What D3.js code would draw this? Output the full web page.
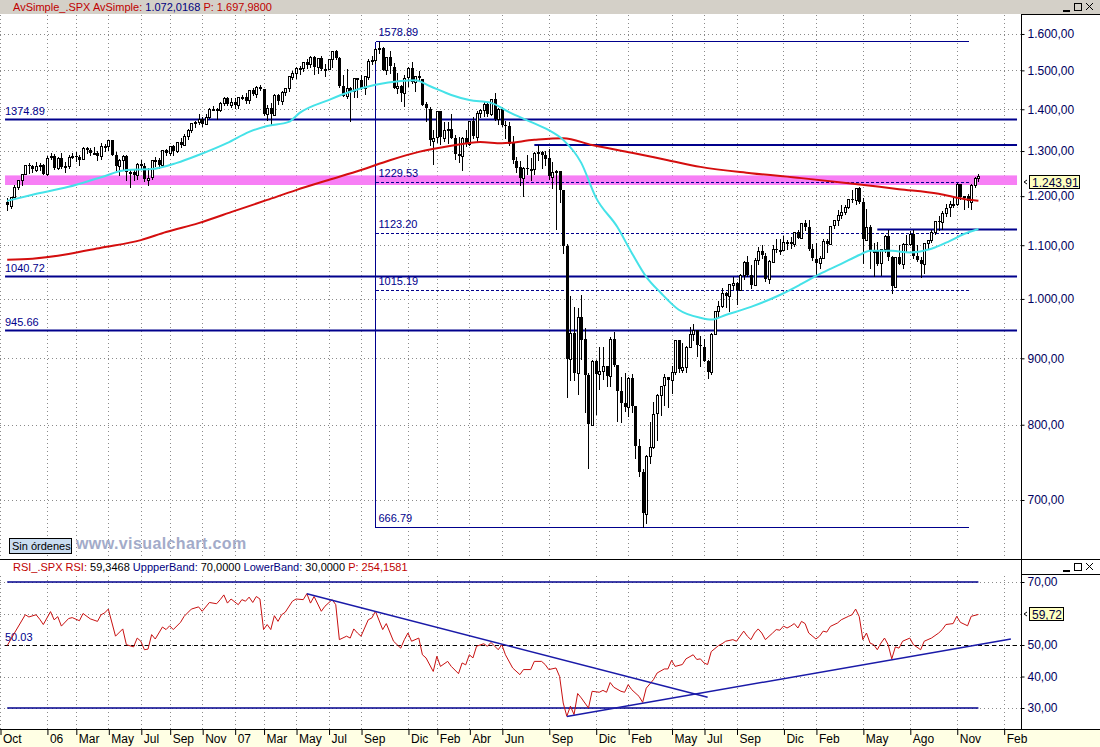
<!DOCTYPE html>
<html lang="es">
<head>
<meta charset="UTF-8">
<title>SPX semanal</title>
<script src="https://d3js.org/d3.v7.min.js"></script>
<style>
  body { margin: 0; background: #fff; }
  svg { display: block; font-family: "Liberation Sans", Arial, sans-serif; }
</style>
</head>
<body>
<svg width="1100" height="747"></svg>
<script>
// week index 0 = week of 3 Oct 2005; first candle is week 2
const firstWeek = 2;

const opens = [
  1187,1180,1198,1220,1235,1248,1268,1265,1259,1267,1269,
  1248,1285,1288,1261,1284,1264,1267,1287,1289,1287,1281,1307,1303,1295,1296,1289,1311,1311,1326,1291,1267,1280,1288,1252,1252,1245,1270,1265,1236,1240,1279,1279,1267,1302,1295,1311,1299,1321,1315,1336,1350,1366,1369,1377,1364,1381,1401,1401,1397,1415,1427,1411,
  1418,1410,1431,1431,1422,1448,1438,1456,1451,1387,1403,1387,1436,1421,1444,1453,1484,1494,1506,1506,1523,1516,1536,1508,1533,1503,1503,1530,1553,1534,1459,1433,1454,1446,1479,1474,1454,1484,1526,1527,1558,1562,1501,1535,1510,1454,1459,1441,1481,1505,1468,1484,
  1478,1412,1401,1325,1331,1395,1331,1350,1353,1331,1293,1288,1330,1315,1370,1333,1390,1398,1414,1388,1425,1376,1400,1361,1360,1318,1278,1263,1239,1261,1258,1260,1296,1298,1292,1283,1242,1252,1255,1213,1099,899,941,877,969,931,873,800,896,876,880,888,
  873,932,890,850,832,826,869,827,770,735,683,757,769,816,843,857,870,866,878,929,883,887,919,940,946,921,919,896,879,940,979,987,1010,1004,1026,1029,1016,1043,1068,1044,1025,1071,1088,1080,1036,1069,1093,1091,1091,1106,1106,1102,1126,
  1115,1145,1136,1092,1074,1066,1076,1109,1104,1139,1150,1160,1167,1178,1194,1192,1217,1187,1111,1136,1088,1089,1065,1092,1118,1077,1023,1078,1065,1103,1102,1122,1079,1072,1065,1105,1110,1126,1149,1146,1165,1176,1183,1183,1226,1199,1200,1189,1225,1240
];
const highs = [
  1197,1199,1224,1235,1249,1269,1272,1268,1275,1272,1271,
  1288,1295,1293,1286,1295,1274,1291,1295,1297,1290,1310,1310,1307,1310,1300,1318,1317,1326,1326,1297,1282,1290,1290,1257,1258,1272,1280,1273,1262,1280,1287,1283,1303,1304,1312,1315,1322,1330,1340,1352,1366,1372,1389,1381,1388,1404,1407,1402,1418,1431,1431,1428,
  1429,1432,1437,1441,1449,1453,1458,1461,1452,1410,1415,1438,1438,1445,1453,1485,1499,1510,1513,1523,1530,1540,1540,1533,1540,1517,1531,1553,1556,1535,1488,1504,1456,1481,1481,1489,1486,1530,1538,1561,1577,1563,1536,1552,1521,1492,1461,1488,1510,1523,1486,1498,
  1478,1418,1405,1350,1396,1396,1369,1368,1389,1337,1333,1333,1350,1372,1381,1395,1400,1421,1416,1426,1441,1404,1406,1370,1368,1335,1286,1277,1263,1291,1284,1297,1313,1300,1301,1304,1274,1256,1255,1213,1102,1006,985,984,1007,950,877,897,897,919,918,888,
  935,943,890,870,877,870,875,827,780,740,758,804,833,845,857,875,871,888,930,930,924,920,951,956,947,936,931,898,941,979,996,1019,1013,1027,1040,1030,1045,1070,1080,1062,1076,1097,1101,1085,1071,1100,1113,1112,1119,1110,1117,1127,1130,
  1145,1150,1150,1103,1104,1080,1112,1113,1139,1151,1170,1181,1182,1195,1214,1218,1220,1197,1174,1141,1104,1106,1092,1120,1131,1079,1078,1100,1104,1120,1128,1130,1100,1077,1105,1111,1131,1149,1158,1168,1184,1189,1196,1228,1227,1200,1204,1226,1241,1247
];
const lows = [
  1170,1175,1198,1216,1225,1248,1250,1253,1255,1258,1248,
  1245,1282,1260,1259,1261,1253,1262,1283,1278,1268,1281,1295,1290,1294,1280,1281,1300,1303,1290,1256,1245,1259,1235,1219,1234,1237,1260,1232,1224,1238,1265,1261,1266,1290,1290,1291,1298,1310,1313,1327,1345,1357,1363,1360,1363,1378,1398,1377,1395,1410,1410,1405,
  1404,1403,1425,1416,1416,1437,1431,1449,1386,1374,1364,1386,1414,1412,1435,1445,1476,1481,1491,1499,1506,1510,1490,1492,1502,1484,1503,1510,1530,1456,1433,1429,1370,1430,1432,1452,1439,1476,1517,1521,1547,1500,1491,1492,1453,1440,1420,1407,1460,1467,1447,1471,
  1411,1371,1313,1270,1322,1316,1324,1318,1330,1282,1274,1257,1311,1313,1331,1324,1380,1383,1384,1386,1374,1364,1360,1331,1315,1272,1253,1225,1200,1249,1235,1248,1280,1261,1269,1236,1218,1133,1188,1084,840,866,866,845,899,818,741,800,815,852,867,857,
  857,888,805,804,820,812,818,754,730,667,672,748,768,779,814,829,826,846,875,879,878,879,919,930,903,888,896,869,875,941,969,985,985,979,1017,991,1017,1036,1042,1020,1025,1064,1075,1033,1029,1069,1086,1083,1090,1092,1095,1099,1115,
  1115,1131,1090,1071,1045,1056,1075,1087,1104,1134,1141,1154,1162,1175,1188,1183,1186,1066,1111,1056,1041,1062,1043,1087,1071,1011,1023,1063,1056,1088,1100,1076,1069,1040,1048,1092,1107,1123,1131,1132,1159,1159,1177,1181,1194,1173,1177,1174,1219,1233
];
const closes = [
  1180,1198,1220,1235,1248,1268,1265,1259,1267,1269,1248,
  1285,1288,1261,1284,1264,1267,1287,1289,1287,1281,1307,1303,1295,1296,1289,1311,1311,1326,1291,1267,1280,1288,1252,1252,1245,1270,1265,1236,1240,1279,1279,1267,1302,1295,1311,1299,1321,1315,1336,1350,1366,1369,1377,1364,1381,1401,1401,1397,1415,1427,1411,1418,
  1410,1431,1431,1422,1448,1438,1456,1451,1387,1403,1387,1436,1421,1444,1453,1484,1494,1506,1506,1523,1516,1536,1508,1533,1503,1503,1530,1553,1534,1459,1433,1454,1446,1479,1474,1454,1484,1526,1527,1558,1562,1501,1535,1510,1454,1459,1441,1481,1505,1468,1484,1478,
  1412,1401,1325,1331,1395,1331,1350,1353,1331,1293,1288,1330,1315,1370,1333,1390,1398,1414,1388,1425,1376,1400,1361,1360,1318,1278,1263,1239,1261,1258,1260,1296,1298,1292,1283,1242,1252,1255,1213,1099,899,941,877,969,931,873,800,896,876,880,888,873,
  932,890,850,832,826,869,827,770,735,683,757,769,816,843,857,870,866,878,929,883,887,919,940,946,921,919,896,879,940,979,987,1010,1004,1026,1029,1016,1043,1068,1044,1025,1071,1088,1080,1036,1069,1093,1091,1091,1106,1106,1102,1126,1115,
  1145,1136,1092,1074,1066,1076,1109,1104,1139,1150,1160,1167,1178,1194,1192,1217,1187,1111,1136,1088,1089,1065,1092,1118,1077,1023,1078,1065,1103,1102,1122,1079,1072,1065,1105,1110,1126,1149,1146,1165,1176,1183,1183,1226,1199,1200,1189,1225,1240,1244
];

// averages (week index, value)
const cyanWeek = [2,9,19,28,35,42,49,55,63,69,74,80,83,91,97,104,111,115,119,125,130,136,141,147,152,156,161,165,171,175,179,183,188,194,197,201,208,216,222,227,233,238,241,247,252,258,263,267,271];
const cyanVal = [1190,1203,1220,1241,1257,1259,1273,1291,1319,1345,1359,1369,1391,1423,1444,1462,1472,1474,1459,1436,1423,1416,1393,1369,1349,1326,1273,1198,1136,1085,1040,1011,981,967,964,972,986,1007,1027,1045,1064,1081,1089,1089,1086,1093,1108,1122,1132];
const redWeek = [2,9,19,28,39,46,55,65,74,82,91,100,108,116,125,133,139,148,156,164,175,185,194,208,222,235,249,260,267,271];
const redVal = [1072,1074,1083,1095,1110,1126,1144,1169,1192,1213,1235,1257,1279,1298,1312,1321,1318,1326,1330,1314,1296,1279,1264,1250,1239,1228,1215,1205,1194,1190];

const rsiWeek = [2,4,7,8,10,11,12,14,15,16,17,19,20,22,23,25,27,28,29,30,32,34,35,37,38,39,40,41,42,43,45,46,47,48,50,51,53,55,56,58,60,61,62,63,64,66,67,68,69,70,71,72,73,74,75,76,77,78,79,81,82,84,85,86,87,89,90,92,93,94,96,97,98,99,100,102,103,104,106,107,109,111,112,113,114,116,117,118,120,121,122,124,125,127,128,129,130,131,132,134,135,136,138,139,140,142,144,145,147,148,150,151,152,154,155,156,157,158,159,160,161,163,164,166,167,168,169,170,172,173,174,175,177,178,179,181,182,184,185,186,187,189,190,192,193,194,195,196,197,199,200,201,203,204,205,206,207,208,209,210,211,212,214,215,216,217,218,219,220,221,222,223,224,226,227,228,229,230,232,233,235,236,237,238,239,240,241,242,243,244,245,246,247,248,249,250,252,253,255,256,258,260,261,262,264,265,266,268,269,271];
const rsiVal = [49.8,53.8,59.6,58.9,59.6,58.2,56.5,60.6,58,59,56,58.4,58.7,57.7,60,58.3,57.5,59.6,60.2,61.4,52.8,55.1,50.1,49.4,52.2,51.2,48.5,48.7,53.3,51.9,55.7,54.9,56.1,54.9,57.2,59.1,61.4,62.1,60.7,63.5,63.1,64.4,65.9,63.3,64.6,62.8,64.4,63.9,65.2,63.5,65.4,64.6,54.9,56.5,54.9,59.3,57.5,59.6,60.4,63.9,64.6,64.4,66.3,63.3,65.4,60.7,62.3,64.4,62.8,51.7,52.8,52.2,55.1,53.8,52.8,58.0,58.6,60.7,54.9,56.8,51.2,49.0,51.7,53.8,51.2,52.2,46.9,45.9,41.6,46.4,43.2,44.8,43.2,40.9,44.3,43.7,46.9,45.9,49.6,50.4,49.6,50.8,48.5,50.1,46.9,42.7,40.6,42.2,42.2,44.8,44.8,43.8,42.2,42.7,40.0,31.6,27.4,30.6,27.9,34.6,33.2,30.0,35.3,35.0,35.6,35.0,38.1,36.6,35.3,35.0,37.4,35.8,33.7,31.8,36.3,39.0,41.1,42.4,42.4,45.1,43.2,43.8,45.6,46.9,45.4,45.6,44.3,43.8,47.9,49.8,50.4,51.2,51.7,51.2,52.8,54.4,52.8,51.7,53.8,55.1,53.8,51.7,53.8,54.9,54.7,56.0,55.4,56.0,56.8,55.4,57.5,56.8,53.8,51.9,52.8,54.4,54.1,55.9,57.0,58.0,59.1,59.6,61.4,59.0,51.7,53.8,50.6,50.1,48.5,50.6,52.2,50.1,45.6,49.4,49.0,51.2,52.2,50.1,48.5,51.2,52.2,53.8,54.9,56.5,56.8,59.1,57.2,56.1,59.1,59.7];

const priceTicks = [1600,1500,1400,1300,1200,1100,1000,900,800,700];
const rsiTicks = [70,60,50,40,30];
const rsiLabelTicks = [70,50,40,30]; // 60 sits under the last-value box
const monthWeek = [0,13,21,30,39,47,56,65,73,82,91,100,113,121,130,139,152,165,174,186,195,204,217,226,239,252,265,278];
const monthLabel = ["Oct","06","Mar","May","Jul","Sep","Nov","07","Mar","May","Jul","Sep","Dic","Feb","Abr","Jun","Sep","Dic","Feb","May","Jul","Sep","Dic","Feb","May","Ago","Nov","Feb"];

const levelVals = [1374.89, 1040.72, 945.66];
const shortLevelVals = [1314, 1131];
const shortLevelFrom = [148, 243];
const fibHigh = 1578.89, fibLow = 666.79;
const fibLevels = [1229.53, 1123.20, 1015.19];
const fibFrom = 104, fibTo = 268;
const band = [1224, 1245];
const rsiMid = 50.03;
const trendA = {w: [85, 196], v: [66.3, 33.4]};
const trendB = {w: [157, 280], v: [27.3, 51.9]};
const lastPrice = 1243.91, lastRsi = 59.72;

const NAVY = "#00008c";
const svg = d3.select("svg");
const x = d3.scaleLinear().domain([0, 282.8]).range([0, 1021]);
const yP = d3.scaleLog().domain([633.8, 1654.8]).range([556, 15]);
const yR = d3.scaleLinear().domain([30, 70]).range([708, 582]);
const px = v => Math.round(v) + 0.5;
const loc = d3.formatLocale({decimal: ",", thousands: ".", grouping: [3], currency: ["", ""]});
const fmt2 = loc.format(",.2f");

// header bar
svg.append("rect").attr("x", 0).attr("y", 0).attr("width", 1100).attr("height", 14).attr("fill", "#d4d0c8");

// dotted grid
const grid = svg.append("g").attr("stroke", "#8a8a8a").attr("stroke-dasharray", "1,3");
monthWeek.forEach(w => {
  grid.append("line").attr("x1", px(x(w))).attr("x2", px(x(w))).attr("y1", 15).attr("y2", 556);
  grid.append("line").attr("x1", px(x(w))).attr("x2", px(x(w))).attr("y1", 576).attr("y2", 729);
});
priceTicks.forEach(t => grid.append("line").attr("x1", 0).attr("x2", 1021).attr("y1", px(yP(t))).attr("y2", px(yP(t))));
rsiTicks.forEach(t => grid.append("line").attr("x1", 0).attr("x2", 1021).attr("y1", px(yR(t))).attr("y2", px(yR(t))));

// pink band
svg.append("rect").attr("x", x(1.4)).attr("width", x(281.7) - x(1.4))
  .attr("y", yP(band[1])).attr("height", yP(band[0]) - yP(band[1])).attr("fill", "#f77ff5");

// fibonacci frame
const fib = svg.append("g").attr("stroke", NAVY).attr("stroke-width", 1).attr("shape-rendering", "crispEdges");
fib.append("line").attr("x1", px(x(fibFrom))).attr("x2", px(x(fibFrom))).attr("y1", px(yP(fibHigh))).attr("y2", px(yP(fibLow)));
[fibHigh, fibLow].forEach(v => fib.append("line").attr("x1", px(x(fibFrom))).attr("x2", px(x(fibTo))).attr("y1", px(yP(v))).attr("y2", px(yP(v))));
fibLevels.forEach(v => fib.append("line").attr("x1", px(x(fibFrom))).attr("x2", px(x(fibTo))).attr("y1", px(yP(v))).attr("y2", px(yP(v))).attr("stroke-dasharray", "3,2"));
[fibHigh, ...fibLevels, fibLow].forEach(v => svg.append("text").attr("x", x(fibFrom) + 3).attr("y", yP(v) - 5)
  .attr("font-size", 11).attr("fill", NAVY).text(v.toFixed(2)));

// horizontal levels
levelVals.forEach(v => {
  svg.append("line").attr("x1", x(1.4)).attr("x2", x(281.7)).attr("y1", yP(v)).attr("y2", yP(v))
    .attr("stroke", NAVY).attr("stroke-width", 2);
  svg.append("text").attr("x", 5).attr("y", yP(v) - 4).attr("font-size", 11).attr("fill", NAVY).text(v.toFixed(2));
});
shortLevelVals.forEach((v, k) => svg.append("line").attr("x1", x(shortLevelFrom[k])).attr("x2", x(281.7))
  .attr("y1", yP(v)).attr("y2", yP(v)).attr("stroke", NAVY).attr("stroke-width", 2));

// candles
const candles = closes.map((c, k) => ({i: firstWeek + k, o: opens[k], h: highs[k], l: lows[k], c: c}));
const cg = svg.append("g").attr("shape-rendering", "crispEdges");
cg.selectAll("line").data(candles).join("line")
  .attr("x1", d => px(x(d.i))).attr("x2", d => px(x(d.i)))
  .attr("y1", d => Math.round(yP(d.h))).attr("y2", d => Math.round(yP(d.l)) + 1)
  .attr("stroke", "#000");
cg.selectAll("rect").data(candles).join("rect")
  .attr("x", d => d.c >= d.o ? Math.round(x(d.i)) - 0.5 : Math.round(x(d.i)) - 1)
  .attr("width", d => d.c >= d.o ? 2 : 3)
  .attr("y", d => Math.round(yP(Math.max(d.o, d.c))) + (d.c >= d.o ? 0.5 : 0))
  .attr("height", d => Math.max(1, Math.round(yP(Math.min(d.o, d.c)) - yP(Math.max(d.o, d.c)))))
  .attr("fill", d => d.c >= d.o ? "#fff" : "#000")
  .attr("stroke", d => d.c >= d.o ? "#000" : "none");

// moving averages
const maLine = d3.line().x(d => x(d[0])).y(d => yP(d[1])).curve(d3.curveMonotoneX);
svg.append("path").attr("d", maLine(d3.zip(redWeek, redVal))).attr("fill", "none").attr("stroke", "#d40e0e").attr("stroke-width", 2);
svg.append("path").attr("d", maLine(d3.zip(cyanWeek, cyanVal))).attr("fill", "none").attr("stroke", "#45e2e8").attr("stroke-width", 2);

// header legends
const h1 = svg.append("text").attr("x", 13).attr("y", 11).attr("font-size", 11);
h1.append("tspan").attr("fill", "#c00000").text("AvSimple_.SPX AvSimple: ");
h1.append("tspan").attr("fill", "#000080").text("1.072,0168 ");
h1.append("tspan").attr("fill", "#c00000").text(" P: 1.697,9800");

function winButtons(y0) {
  const b = svg.append("g").attr("stroke", "#000").attr("fill", "none").attr("shape-rendering", "crispEdges");
  b.append("line").attr("x1", 1063).attr("x2", 1070).attr("y1", y0 + 9.5).attr("y2", y0 + 9.5).attr("stroke-width", 2);
  b.append("rect").attr("x", 1074.5).attr("y", y0 + 2.5).attr("width", 7).attr("height", 7);
  b.append("path").attr("d", `M1086,${y0 + 2} L1093,${y0 + 9} M1093,${y0 + 2} L1086,${y0 + 9}`).attr("shape-rendering", "auto");
}
winButtons(1);
winButtons(561);

// right axes
const axisBox = svg.append("g").attr("stroke", "#000").attr("shape-rendering", "crispEdges");
axisBox.append("line").attr("x1", 1021.5).attr("x2", 1021.5).attr("y1", 14).attr("y2", 729);
axisBox.append("line").attr("x1", 1021).attr("x2", 1100).attr("y1", 14.5).attr("y2", 14.5);
axisBox.append("line").attr("x1", 1021).attr("x2", 1100).attr("y1", 574.5).attr("y2", 574.5);
axisBox.append("line").attr("x1", 0).attr("x2", 1100).attr("y1", 559.5).attr("y2", 559.5);

const pAxis = svg.append("g").attr("transform", "translate(1021.5,0)")
  .call(d3.axisRight(yP).tickValues(priceTicks).tickFormat(fmt2).tickSize(3).tickPadding(3));
const rAxis = svg.append("g").attr("transform", "translate(1021.5,0)")
  .call(d3.axisRight(yR).tickValues(rsiLabelTicks).tickFormat(fmt2).tickSize(3).tickPadding(3));
[pAxis, rAxis].forEach(a => {
  a.select(".domain").remove();
  a.selectAll("text").attr("font-size", 12).attr("fill", "#000060").attr("font-family", "Liberation Sans, Arial, sans-serif");
  a.selectAll("line").attr("stroke", "#000");
});

// last value markers
function marker(yv, label, w) {
  const g = svg.append("g").attr("transform", `translate(1021,${Math.round(yv)})`);
  g.append("path").attr("d", "M3,0 L6,-2 M3,0 L6,2").attr("stroke", "#000").attr("fill", "none");
  g.append("rect").attr("x", 8.5).attr("y", -6.5).attr("width", w).attr("height", 13).attr("fill", "#ffffc0").attr("stroke", "#000");
  g.append("text").attr("x", 11).attr("y", 4.5).attr("font-size", 12).attr("fill", "#000040").text(label);
}
marker(yP(lastPrice) + 6, fmt2(lastPrice), 50);
marker(yR(lastRsi), fmt2(lastRsi), 34);

// "Sin órdenes" + watermark
svg.append("rect").attr("x", 9.5).attr("y", 538.5).attr("width", 62).attr("height", 15).attr("fill", "#c9dcf0").attr("stroke", "#000");
svg.append("text").attr("x", 12).attr("y", 550).attr("font-size", 11).attr("fill", "#000").text("Sin órdenes");
svg.append("text").attr("x", 76).attr("y", 549).attr("font-size", 16).attr("font-weight", "bold")
  .attr("letter-spacing", 0.4).attr("fill", "#a3abc9").text("www.visualchart.com");

// RSI panel
const h2 = svg.append("text").attr("x", 13).attr("y", 571).attr("font-size", 11);
h2.append("tspan").attr("fill", "#c00000").text("RSI_.SPX RSI: ");
h2.append("tspan").attr("fill", "#000").text("59,3468  ");
h2.append("tspan").attr("fill", "#000080").text("UppperBand: ");
h2.append("tspan").attr("fill", "#000").text("70,0000  ");
h2.append("tspan").attr("fill", "#000080").text("LowerBand: ");
h2.append("tspan").attr("fill", "#000").text("30,0000  ");
h2.append("tspan").attr("fill", "#c00000").text("P: 254,1581");

[70, 30].forEach(v => svg.append("line").attr("x1", x(2)).attr("x2", x(271)).attr("y1", yR(v)).attr("y2", yR(v))
  .attr("stroke", NAVY).attr("stroke-width", 1.5));
svg.append("line").attr("x1", 5).attr("x2", 1021).attr("y1", px(yR(rsiMid))).attr("y2", px(yR(rsiMid)))
  .attr("stroke", "#000").attr("stroke-dasharray", "4,3");
svg.append("text").attr("x", 5).attr("y", yR(rsiMid) - 4).attr("font-size", 11).attr("fill", NAVY).text(rsiMid.toFixed(2));

const rsiLine = d3.line().x(d => x(d[0])).y(d => yR(d[1]));
svg.append("path").attr("d", rsiLine(d3.zip(rsiWeek, rsiVal))).attr("fill", "none").attr("stroke", "#c81010").attr("stroke-width", 1);
[trendA, trendB].forEach(t => svg.append("path").attr("d", rsiLine(d3.zip(t.w, t.v)))
  .attr("fill", "none").attr("stroke", "#1a1aa8").attr("stroke-width", 1.5));

// time axis
svg.append("rect").attr("x", 0).attr("y", 729).attr("width", 1100).attr("height", 18).attr("fill", "#ffffe4");
svg.append("line").attr("x1", 0).attr("x2", 1100).attr("y1", 729.5).attr("y2", 729.5).attr("stroke", "#000");
const xAxis = svg.append("g").attr("transform", "translate(0.5,729)")
  .call(d3.axisBottom(x).tickValues(monthWeek).tickFormat((d, k) => monthLabel[k]).tickSize(6).tickSizeOuter(0));
xAxis.select(".domain").remove();
xAxis.selectAll("line").attr("stroke", "#000");
xAxis.selectAll("text").attr("text-anchor", "start").attr("x", 2).attr("y", 5).attr("dy", "0.71em")
  .attr("font-size", 12).attr("fill", "#000").attr("font-family", "Liberation Sans, Arial, sans-serif");
</script>
</body>
</html>
